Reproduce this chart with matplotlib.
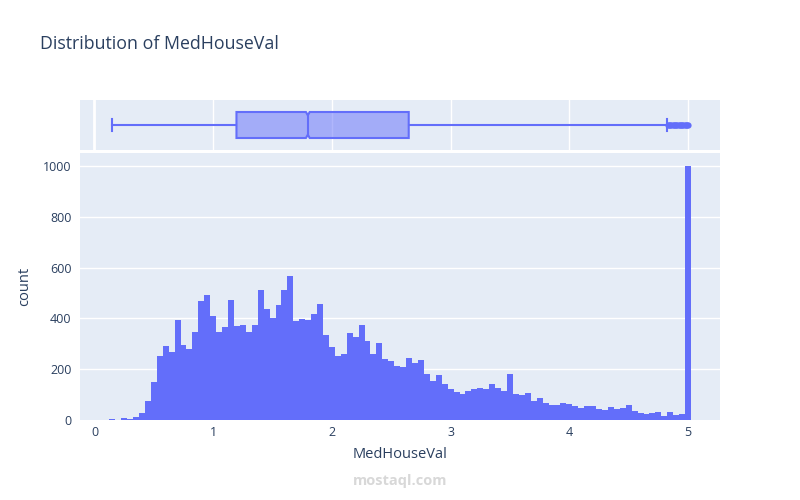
import matplotlib
matplotlib.use("Agg")
import matplotlib.pyplot as plt
import numpy as np
from matplotlib.patches import Polygon

# ---------------- data ----------------
title = "Distribution of MedHouseVal"
x_label = "MedHouseVal"
y_label = "count"

bin_start = 0.125
bin_width = 0.05
counts = [4, 0, 8, 4, 13, 28, 75, 150, 253, 292,
          268, 395, 296, 280, 347, 470, 493, 411, 347, 367,
          474, 371, 375, 347, 375, 513, 438, 403, 454, 513,
          568, 391, 399, 395, 418, 458, 336, 288, 253, 261,
          343, 328, 375, 312, 261, 304, 241, 233, 213, 209,
          245, 225, 237, 182, 154, 178, 142, 122, 111, 103,
          114, 122, 126, 122, 142, 126, 114, 182, 103, 99,
          107, 75, 87, 67, 59, 59, 67, 63, 55, 47,
          55, 55, 43, 39, 51, 43, 47, 59, 36, 28,
          24, 28, 32, 16, 32, 20, 24, 1000]

x_ticks = [0, 1, 2, 3, 4, 5]
y_ticks = [0, 200, 400, 600, 800, 1000]

box_min = 0.15
box_q1 = 1.196
box_median = 1.797
box_q3 = 2.647
box_upper_fence = 4.824
box_ci_low = 1.781
box_ci_high = 1.813
outliers = [4.83, 4.84, 4.85, 4.86, 4.87, 4.88, 4.89, 4.90, 4.91, 4.92,
            4.93, 4.94, 4.95, 4.96, 4.97, 4.98, 4.99, 5.00]

# ---------------- style ----------------
BLUE = "#636efa"
BG = "#E5ECF6"
TEXT = "#2a3f5f"
plt.rcParams['font.family'] = ['Open Sans', 'DejaVu Sans']

fig = plt.figure(figsize=(8, 5), dpi=100)
ax = fig.add_axes([0.1, 0.16, 0.8, 0.534])
axb = fig.add_axes([0.1, 0.70, 0.8, 0.10], sharex=ax)

# histogram
edges = bin_start + bin_width * np.arange(len(counts) + 1)
ax.set_facecolor(BG)
ax.stairs(counts, edges, fill=True, color=BLUE, linewidth=0, zorder=3)
ax.set_xlim(-0.122, 5.269)
ax.set_ylim(0, 1051)
ax.set_xticks(x_ticks)
ax.set_yticks(y_ticks)
ax.set_xticklabels([str(t) for t in x_ticks])
ax.set_yticklabels([str(t) for t in y_ticks])
for t in y_ticks[1:]:
    ax.axhline(t, color="white", linewidth=1, zorder=1)
for s in ax.spines.values():
    s.set_visible(False)
ax.tick_params(axis='both', length=0, colors=TEXT, labelsize=9)
ax.tick_params(axis='y', pad=6)
ax.tick_params(axis='x', pad=4)

# box panel
axb.set_facecolor(BG)
axb.set_ylim(-0.5, 0.5)
for t in x_ticks:
    axb.axvline(t, color="white", linewidth=2 if t == 0 else 1, zorder=1)
for s in axb.spines.values():
    s.set_visible(False)
axb.tick_params(axis='both', length=0, labelbottom=False, labelleft=False)
axb.set_yticks([])

h = 0.26
nw = 0.75
poly = Polygon([(box_q1, -h), (box_ci_low, -h), (box_median, -h * nw),
                (box_ci_high, -h), (box_q3, -h), (box_q3, h),
                (box_ci_high, h), (box_median, h * nw), (box_ci_low, h),
                (box_q1, h)], closed=True,
               facecolor=(0.388, 0.431, 0.980, 0.5), edgecolor=BLUE,
               linewidth=1.5, zorder=4)
axb.add_patch(poly)
axb.plot([box_median, box_median], [-h * nw, h * nw], color=BLUE, lw=1.5, zorder=5)
axb.plot([box_min, box_q1], [0, 0], color=BLUE, lw=1.5, zorder=4)
axb.plot([box_q3, box_upper_fence], [0, 0], color=BLUE, lw=1.5, zorder=4)
axb.plot([box_min, box_min], [-0.12, 0.12], color=BLUE, lw=1.5, zorder=4)
axb.plot([box_upper_fence, box_upper_fence], [-0.12, 0.12], color=BLUE, lw=1.5, zorder=4)
axb.plot(outliers, np.zeros(len(outliers)), 'o', ms=4.5, color=BLUE,
         markeredgewidth=0, zorder=5)

# texts
fig.text(40 / 800, 1 - 44 / 500, title, ha='left', va='center',
         fontsize=12.75, color=TEXT)
fig.text(25 / 800, 1 - 286 / 500, y_label, rotation=90, ha='center',
         va='center', fontsize=10.5, color=TEXT)
fig.text(400 / 800, 1 - 455 / 500, x_label, ha='center', va='center',
         fontsize=10.5, color=TEXT)
fig.text(400 / 800, 1 - 481 / 500, "mostaql.com", ha='center', va='center',
         fontsize=10.5, color="#d8d8d8", fontweight='bold')

fig.savefig("out.png", dpi=100)
